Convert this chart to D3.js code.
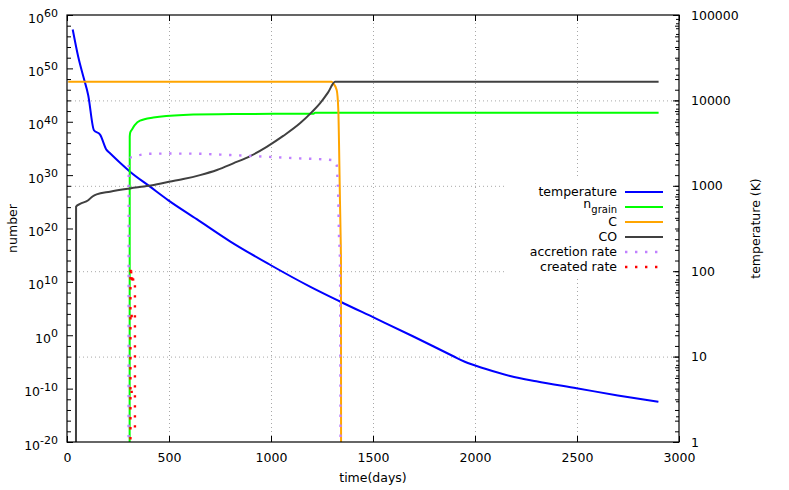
<!DOCTYPE html>
<html>
<head>
<meta charset="utf-8">
<script src="https://cdn.jsdelivr.net/npm/d3@7"></script>
<style>
  body { margin: 0; background: #fff; }
  svg text { font-family: "DejaVu Sans", sans-serif; font-size: 12.5px; fill: #000; }
</style>
</head>
<body>
<svg width="789" height="490"></svg>
<script>
// temperature (K) -> right axis
const tempDays = [28, 55, 80, 104, 132, 162, 194, 211, 260, 309, 407, 497, 636, 799, 995, 1191, 1338, 1510, 1698, 1894, 1950, 2050, 2172, 2300, 2498, 2700, 2899]
const tempK = [67600, 32400, 19000, 11500, 4470, 3980, 2630, 2400, 1860, 1462, 977, 676, 407, 224, 119, 66, 44.2, 28.2, 17.2, 10.1, 8.7, 7.2, 5.93, 5.13, 4.26, 3.51, 2.95]

// number of grains -> left axis
const grainDays = [307, 307.5, 310, 317, 333, 358, 423, 570, 815, 1208, 1216, 2900]
const grainN = [1e-21, 1.6e37, 1e38, 2.8e38, 2.5e39, 1.6e40, 6.3e40, 1.9e41, 2.8e41, 3.2e41, 5e41, 5e41]

// C
const cDays = [6, 1297, 1305, 1322, 1330, 1334, 1336, 1338, 1341, 1343, 1343.5]
const cN = [3.2e47, 3.2e47, 1.6e47, 9e45, 1.6e42, 5e34, 1e30, 2e25, 1.3e19, 1e14, 1e-21]

// CO
const coDays = [44, 44.5, 64, 104, 125, 145, 211, 309, 400, 489, 570, 652, 735, 815, 900, 979, 1060, 1142, 1200, 1240, 1280, 1314, 2900]
const coN = [1e-21, 1.3e24, 4e24, 2e25, 1e26, 2.5e26, 8e26, 3.2e27, 1e28, 4.5e28, 1.8e29, 1e30, 9e30, 1.6e32, 4e33, 2e35, 2.2e37, 5e39, 6.3e41, 2.8e43, 3.2e45, 3.2e47, 3.2e47]

// accretion rate
const accDays = [302, 302.5, 325, 360, 407, 500, 652, 750, 897, 1100, 1305, 1322, 1325, 1330, 1333, 1338, 1341]
const accRate = [1e-21, 1.4e33, 2.8e33, 6.3e33, 1e34, 1.1e34, 1e34, 7e33, 4e33, 1.6e33, 6.3e32, 8e31, 1e30, 2e25, 1.3e19, 1e14, 1e-21]

// created rate (null = gap)
const createdDays = [311, 311, 313, 315, 318, 322, 326, 333, 333, null, 311, 348, null, 311, 336]
const createdRate = [3e-20, 2e12, 1e11, 1e12, 3e10, 3e11, 6e9, 1e10, 5e-19, null, 2.5e-11, 2.5e-11, null, 4e3, 4e3]

const xTicks = [0, 500, 1000, 1500, 2000, 2500, 3000]
const yTicks = [1e-20, 1e-10, 1, 1e10, 1e20, 1e30, 1e40, 1e50, 1e60]
const yExps = ['-20', '-10', '0', '10', '20', '30', '40', '50', '60']
const y2Ticks = [1, 10, 100, 1000, 10000, 100000]

const legendNames = ['temperature', 'n', 'C', 'CO', 'accretion rate', 'created rate']

draw()

function draw () {
  const dim = setDimensions()
  const scales = setScales(dim)
  const svg = d3.select('svg')

  drawGrid(svg, dim, scales)
  const g = createG(svg, dim)

  const series = [
    { d: tempDays, v: tempK, y: scales.y2, color: '#0000ff', dotted: false, smooth: true },
    { d: grainDays, v: grainN, y: scales.y, color: '#00ff00', dotted: false, smooth: true },
    { d: cDays, v: cN, y: scales.y, color: '#ffa500', dotted: false, smooth: true },
    { d: coDays, v: coN, y: scales.y, color: '#404040', dotted: false, smooth: true },
    { d: accDays, v: accRate, y: scales.y, color: '#c080ff', dotted: true, smooth: true },
    { d: createdDays, v: createdRate, y: scales.y, color: '#ff0000', dotted: true, smooth: false }
  ]
  series.forEach((s) => drawPath(g, s, scales.x))

  drawAxes(svg, dim, scales)
  drawLegend(svg, series)
  drawLabels(svg, dim)
}

function setDimensions () {
  const margin = { top: 15, right: 110, bottom: 48, left: 67 }
  const width = 789
  const height = 490
  return { width, height, margin, w: width - margin.left - margin.right, h: height - margin.top - margin.bottom }
}

function setScales ({ margin, w, h }) {
  return {
    x: d3.scaleLinear().domain([0, 3000]).range([margin.left, margin.left + w]),
    y: d3.scaleLog().domain([1e-20, 1e60]).range([margin.top + h, margin.top]),
    y2: d3.scaleLog().domain([1, 100000]).range([margin.top + h, margin.top])
  }
}

function createG (svg, { margin, w, h }) {
  svg.append('clipPath')
    .attr('id', 'clipPath')
    .append('rect')
      .attr('x', margin.left)
      .attr('y', margin.top)
      .attr('width', w)
      .attr('height', h)
  return svg.append('g').attr('clip-path', 'url(#clipPath)')
}

function drawGrid (svg, { margin, w, h }, { x, y2 }) {
  const grid = svg.append('g')
    .attr('stroke', '#a8a8a8')
    .attr('stroke-width', 1)
    .attr('stroke-dasharray', '1,3')
  grid.selectAll('.vg')
    .data(xTicks.slice(1, -1))
    .enter().append('line')
      .attr('x1', (d) => x(d) + 0.5).attr('x2', (d) => x(d) + 0.5)
      .attr('y1', margin.top).attr('y2', margin.top + h)
  grid.selectAll('.hg')
    .data(y2Ticks.slice(1, -1))
    .enter().append('line')
      .attr('y1', (d) => y2(d) + 0.5).attr('y2', (d) => y2(d) + 0.5)
      .attr('x1', margin.left).attr('x2', margin.left + w)
  // opaque key box
  svg.append('rect')
    .attr('x', 506).attr('y', 178)
    .attr('width', 172).attr('height', 100)
    .attr('fill', '#fff')
}

function drawPath (g, s, x) {
  const pts = s.d.map((d, i) => [d, s.v[i]])
  const line = d3.line()
    .defined((p) => p[0] !== null && p[1] !== null)
    .curve(s.smooth ? d3.curveMonotoneX : d3.curveLinear)
    .x((p) => x(p[0]))
    .y((p) => s.y(p[1]))
  const path = g.append('path')
    .attr('d', line(pts))
    .attr('fill', 'none')
    .attr('stroke', s.color)
    .attr('stroke-width', s.dotted ? 2.4 : 2)
    .attr('stroke-linejoin', 'round')
  if (s.dotted) path.attr('stroke-dasharray', '2.4,7.6')
}

function drawAxes (svg, { margin, w, h }, { x, y, y2 }) {
  const minorY = d3.range(-18, 60, 2).filter((e) => e % 10 !== 0).map((e) => Math.pow(10, e))
  const minorY2 = []
  for (let dec = 1; dec < 100000; dec *= 10) {
    for (let k = 2; k < 10; k++) minorY2.push(dec * k)
  }

  // bottom
  svg.append('g')
    .attr('transform', `translate(0,${margin.top + h})`)
    .call(d3.axisBottom(x).tickValues(xTicks).tickSizeInner(-6).tickSizeOuter(0).tickPadding(11).tickFormat(d3.format('d')))
  // top mirror
  svg.append('g')
    .attr('transform', `translate(0,${margin.top})`)
    .call(d3.axisTop(x).tickValues(xTicks).tickSizeInner(-6).tickSizeOuter(0).tickFormat(''))

  // left
  const left = svg.append('g')
    .attr('transform', `translate(${margin.left},0)`)
    .call(d3.axisLeft(y).tickValues(yTicks).tickSizeInner(-6).tickSizeOuter(0).tickPadding(9).tickFormat(''))
  left.selectAll('.tick text').each(function (d, i) {
    const t = d3.select(this).attr('dy', '0.56em')
    t.append('tspan').text('10')
    t.append('tspan').attr('dy', '-0.5em').style('font-size', '11px').text(yExps[i])
  })
  svg.append('g')
    .attr('transform', `translate(${margin.left},0)`)
    .call(d3.axisLeft(y).tickValues(minorY).tickSizeInner(-4).tickSizeOuter(0).tickFormat(''))

  // right (y2) plus mirrored left ticks
  svg.append('g')
    .attr('transform', `translate(${margin.left + w},0)`)
    .call(d3.axisRight(y2).tickValues(y2Ticks).tickSizeInner(-6).tickSizeOuter(0).tickPadding(12).tickFormat(d3.format('d')))
  svg.append('g')
    .attr('transform', `translate(${margin.left + w},0)`)
    .call(d3.axisRight(y2).tickValues(minorY2).tickSizeInner(-3).tickSizeOuter(0).tickFormat(''))
  svg.append('g')
    .attr('transform', `translate(${margin.left + w},0)`)
    .call(d3.axisRight(y).tickValues(yTicks.concat(minorY)).tickSizeInner(-4).tickSizeOuter(0).tickFormat(''))

  svg.selectAll('.domain').remove()
  svg.selectAll('.tick line').attr('stroke', '#000')

  svg.append('rect')
    .attr('x', margin.left).attr('y', margin.top)
    .attr('width', w).attr('height', h)
    .attr('fill', 'none').attr('stroke', '#000').attr('stroke-width', 1.2)
}

function drawLegend (svg, series) {
  const rowY = [192, 207, 222, 237, 252, 267]
  const key = svg.append('g')
  series.forEach((s, i) => {
    const t = key.append('text')
      .attr('x', 617)
      .attr('y', rowY[i] + (i === 1 ? 0.8 : 3.8))
      .attr('text-anchor', 'end')
    t.append('tspan').text(legendNames[i])
    if (i === 1) {
      t.append('tspan').attr('dy', 5).style('font-size', '10px').text('grain')
    }
    const l = key.append('line')
      .attr('x1', 625).attr('x2', 663)
      .attr('y1', rowY[i]).attr('y2', rowY[i])
      .attr('stroke', s.color)
      .attr('stroke-width', s.dotted ? 2.4 : 2)
    if (s.dotted) l.attr('stroke-dasharray', '2.4,7.6')
  })
}

function drawLabels (svg, { margin, w, h }) {
  svg.append('text')
    .attr('x', margin.left + w / 2)
    .attr('y', 482)
    .attr('text-anchor', 'middle')
    .text('time(days)')
  svg.append('text')
    .attr('transform', `translate(17,${margin.top + h / 2}) rotate(-90)`)
    .attr('text-anchor', 'middle')
    .text('number')
  svg.append('text')
    .attr('transform', `translate(760,${margin.top + h / 2}) rotate(-90)`)
    .attr('text-anchor', 'middle')
    .text('temperature (K)')
}
</script>
</body>
</html>
